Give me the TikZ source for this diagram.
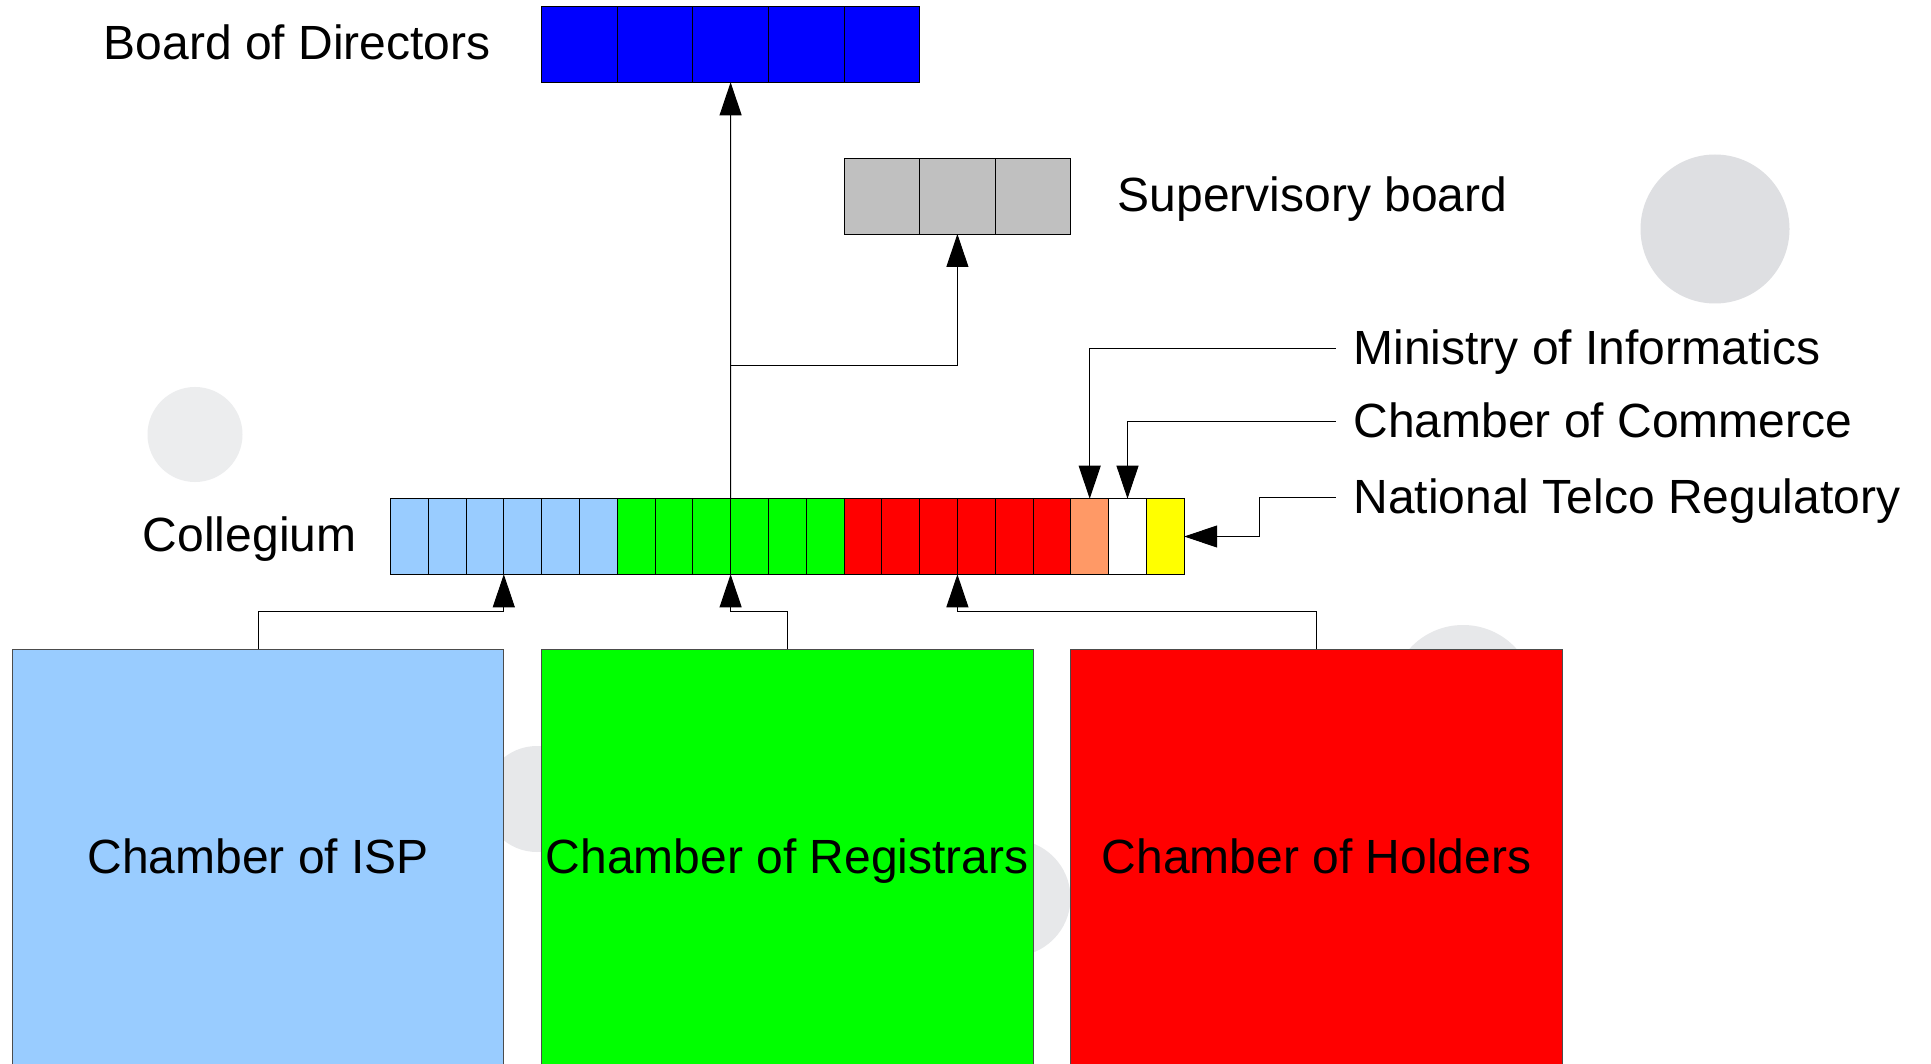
\documentclass[tikz,border=0pt]{standalone}
\usepackage{fontspec}
\setmainfont{Liberation Sans}
\usetikzlibrary{arrows.meta}
\definecolor{lblue}{HTML}{99CCFF}
\definecolor{lgreen}{HTML}{00FF00}
\definecolor{lred}{HTML}{FF0000}
\definecolor{lorange}{HTML}{FF9966}
\definecolor{lyellow}{HTML}{FFFF00}
\definecolor{dblue}{HTML}{0000FF}
\definecolor{sgray}{HTML}{C0C0C0}
\definecolor{bgA}{HTML}{DEDFE2}
\definecolor{bgB}{HTML}{ECEDEE}
\definecolor{bgC}{HTML}{E7E8EA}
\newcommand{\lblfont}{\fontsize{48}{58}\selectfont}
\begin{document}
\begin{tikzpicture}[x=1pt,y=-1pt,
  cell/.style={draw=black, line width=0.9pt, minimum width=37.8pt, minimum height=75.6pt, inner sep=0pt, outer sep=0pt, anchor=north west},
  bcell/.style={draw=black, line width=0.9pt, minimum width=75.6pt, minimum height=75.6pt, inner sep=0pt, outer sep=0pt, anchor=north west},
  chamber/.style={draw=black!70, line width=0.9pt, minimum width=491.4pt, minimum height=415.8pt, inner sep=0pt, outer sep=0pt, anchor=north west, font=\lblfont, text height=32pt, text depth=0pt},
  lbl/.style={inner sep=0pt, outer sep=0pt, font=\lblfont, text height=30.7pt, text depth=0pt},
  arr/.style={-{Triangle[length=33pt,width=22pt]}, line width=1pt, draw=black}]
\useasboundingbox (0,0) rectangle (1931,1064);
\fill[white] (0,0) rectangle (1931,1064);
\clip (0,0) rectangle (1931,1064);
% background circles
\fill[bgA] (1715,229) circle[radius=74.5pt];
\fill[bgB] (195,434.5) circle[radius=47.5pt];
\fill[bgC] (537,799) circle[radius=53pt];
\fill[bgC] (1012,898) circle[radius=58.5pt];
\fill[bgC] (1463,697) circle[radius=72pt];
% chambers
\node[chamber, fill=lblue] (isp) at (12.4,649.3) {Chamber of ISP};
\node[chamber, fill=lgreen] (reg) at (541.6,649.3) {Chamber of Registrars};
\node[chamber, fill=lred] (hol) at (1070.8,649.3) {Chamber of Holders};
% collegium cells
\foreach \i/\c in {0/lblue,1/lblue,2/lblue,3/lblue,4/lblue,5/lblue,
                   6/lgreen,7/lgreen,8/lgreen,9/lgreen,10/lgreen,11/lgreen,
                   12/lred,13/lred,14/lred,15/lred,16/lred,17/lred,
                   18/lorange,19/white,20/lyellow}
  \node[cell, fill=\c] (c\i) at ({390.4+37.8*\i},498.7) {};
% board of directors
\foreach \i in {0,...,4}
  \node[bcell, fill=dblue] (b\i) at ({541.6+75.6*\i},6.7) {};
% supervisory board
\foreach \i in {0,1,2}
  \node[bcell, fill=sgray] (s\i) at ({844+75.6*\i},158.4) {};
% labels
\node[lbl, anchor=east] (bod) at ([xshift=-51pt]b0.west) {Board of Directors};
\node[lbl, anchor=west] (sup) at ([xshift=47pt]s2.east) {Supervisory board};
\node[lbl, anchor=east] (col) at ([xshift=-34pt]c0.west) {Collegium};
\node[lbl, anchor=west] (min) at (1353.5,349) {Ministry of Informatics};
\node[lbl, anchor=west] (com) at (1353.5,421.7) {Chamber of Commerce};
\node[lbl, anchor=west] (ntr) at (1353.5,497.7) {National Telco Regulatory};
% connectors
\draw[arr] (c8.north east) -- (b2.south);
\draw[arr] (c8.north east) ++(0,-133) -| (s1.south);
\draw[arr] (isp.north) -- ++(0,-37.6) -| (c2.south east);
\draw[arr] (reg.north) -- ++(0,-37.6) -| (c8.south east);
\draw[arr] (hol.north) -- ++(0,-37.6) -| (c14.south east);
\draw[arr] ([xshift=-18pt]min.west) -| (c18.north);
\draw[arr] ([xshift=-18pt]com.west) -| (c19.north);
\draw[arr] ([xshift=-18pt]ntr.west) -- ++(-76,0) |- (c20.east);
\end{tikzpicture}
\end{document}
